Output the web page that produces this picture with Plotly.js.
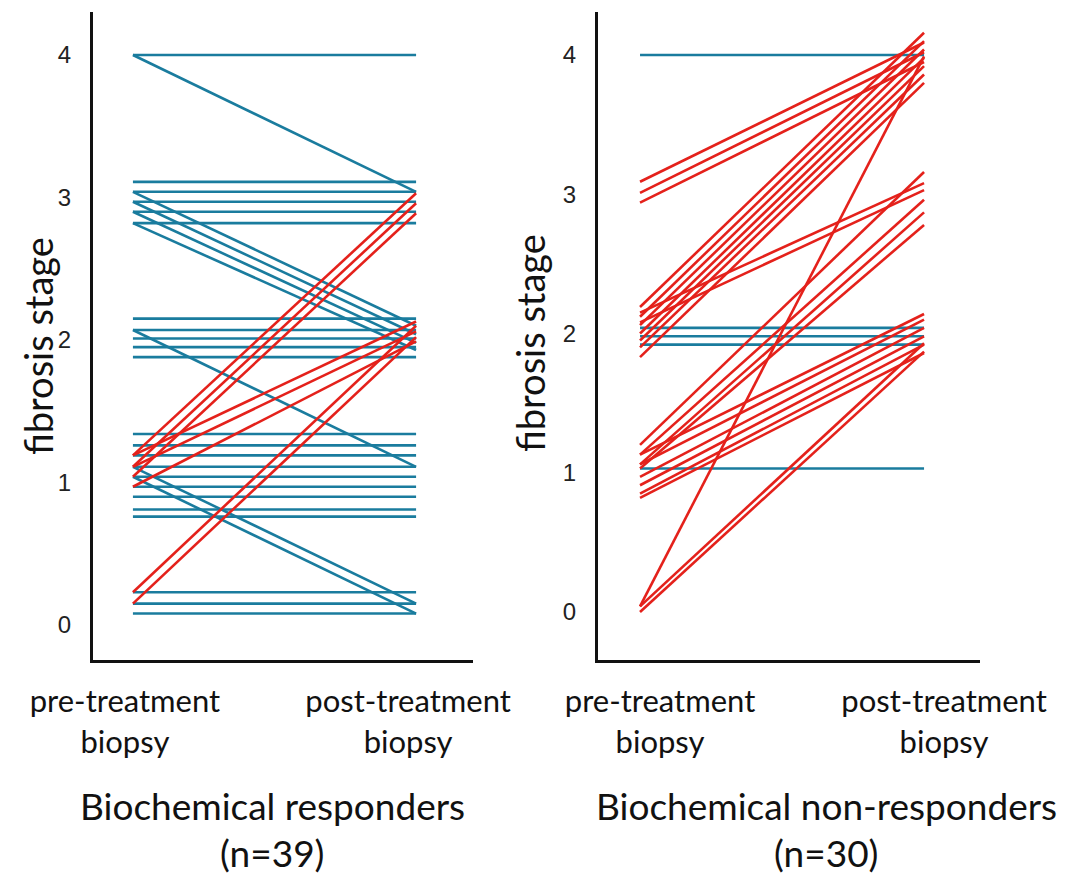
<!DOCTYPE html>
<html>
<head>
<meta charset="utf-8">
<script src="https://cdn.plot.ly/plotly-3.0.1.min.js"></script>
<style>html,body{margin:0;padding:0;background:#fff;}#chart{width:1066px;height:877px;}</style>
</head>
<body>
<div id="chart"></div>
<script>
// Time points (x categories)
const timepoints = ["pre-treatment<br>biopsy", "post-treatment<br>biopsy"];
const stageTicks = [0, 1, 2, 3, 4];

// Biochemical responders (n=39): fibrosis stage per patient (jittered as drawn)
const respPre  = [4.00, 4.00, 3.11, 3.04, 2.97, 2.90, 2.82, 3.04, 2.97, 2.90, 2.82,
                  2.15, 2.07, 2.01, 1.95, 1.88, 2.07,
                  1.34, 1.26, 1.19, 1.11, 1.04, 0.97, 0.90, 0.81, 0.76, 1.11, 1.04,
                  0.23, 0.15, 0.08,
                  1.19, 1.11, 1.04, 1.19, 1.11, 0.97, 0.23, 0.15];
const respPost = [4.00, 3.04, 3.11, 3.04, 2.97, 2.90, 2.82, 2.10, 2.04, 1.98, 1.93,
                  2.15, 2.07, 2.01, 1.95, 1.88, 1.11,
                  1.34, 1.26, 1.19, 1.11, 1.04, 0.97, 0.90, 0.81, 0.76, 0.15, 0.08,
                  0.23, 0.15, 0.08,
                  3.03, 2.96, 2.89, 2.13, 2.06, 1.99, 2.10, 2.02];

// Biochemical non-responders (n=30)
const nonPre  = [4.00, 2.04, 1.98, 1.92, 1.03,
                 3.09, 3.01, 2.94,
                 2.19, 2.12, 2.06, 2.00, 1.95, 1.90, 1.83,
                 2.15, 2.08,
                 0.04, 0.04, 0.00,
                 1.20, 1.13, 1.06, 1.03,
                 1.13, 1.06, 0.97, 0.91, 0.85, 0.82];
const nonPost = [4.00, 2.04, 1.98, 1.92, 1.03,
                 4.09, 4.02, 3.95,
                 4.16, 4.10, 4.04, 3.98, 3.92, 3.86, 3.80,
                 3.08, 3.03,
                 3.99, 1.93, 1.87,
                 3.16, 2.96, 2.87, 2.78,
                 2.14, 2.10, 2.04, 1.98, 1.92, 1.86];

const BLUE = "#1a7c9e";
const RED = "#e4211b";

function buildTraces(pre, post, xa, ya) {
  const blue = [], red = [];
  for (let i = 0; i < pre.length; i++) {
    const worse = Math.round(post[i]) > Math.round(pre[i]);
    const t = {
      type: "scatter", mode: "lines",
      x: [timepoints[0], timepoints[1]],
      y: [pre[i], post[i]],
      xaxis: xa, yaxis: ya,
      line: {color: worse ? RED : BLUE, width: 2.6},
      hoverinfo: "y", showlegend: false
    };
    (worse ? red : blue).push(t);
  }
  return blue.concat(red);
}

const traces = buildTraces(respPre, respPost, "x", "y")
  .concat(buildTraces(nonPre, nonPost, "x2", "y2"));

const W = 1066, H = 877;
const axisFont = {family: "Lato, 'Open Sans', sans-serif", size: 31, color: "#111"};
const tickFontY = {family: "'Liberation Sans', Arial, sans-serif", size: 24, color: "#222"};
const textFont = {family: "Lato, sans-serif", size: 37, color: "#111"};
const titleFont = {family: "Lato, sans-serif", size: 38, color: "#111"};

function xAxis(domain, range, shift) {
  return {
    domain: domain, type: "category", categoryarray: timepoints,
    range: range, showline: true, linecolor: "#111", linewidth: 3,
    showgrid: false, zeroline: false, ticks: "", tickfont: axisFont,
    ticklabelstandoff: 12, ticklabelshift: shift, fixedrange: true
  };
}
function yAxis(range, anchor) {
  return {
    domain: [0, 1], range: range, anchor: anchor,
    showline: true, linecolor: "#111", linewidth: 3,
    showgrid: false, zeroline: false, ticks: "",
    tickvals: stageTicks, tickfont: tickFontY, ticklabelstandoff: 14, fixedrange: true
  };
}

function note(text, px, py, font, angle) {
  return {text: text, xref: "paper", yref: "paper", x: px / W, y: (660 - py) / 648,
          xanchor: "center", yanchor: "middle", textangle: angle || 0,
          showarrow: false, font: font};
}

const layout = {
  width: W, height: H,
  margin: {l: 0, r: 0, t: 12, b: 217, pad: 0},
  paper_bgcolor: "#fff", plot_bgcolor: "#fff",
  showlegend: false,
  xaxis: xAxis([93 / W, 473 / W], [-0.141, 1.201], -8),
  yaxis: yAxis([-0.246, 4.302], "x"),
  xaxis2: xAxis([598 / W, 980 / W], [-0.148, 1.197], 20),
  yaxis2: yAxis([-0.345, 4.309], "x2"),
  annotations: [
    note("fibrosis stage", 38, 346, titleFont, -90),
    note("fibrosis stage", 530, 343, titleFont, -90),
    note("Biochemical responders", 272, 805, textFont),
    note("(n=39)", 272, 852, textFont),
    note("Biochemical non-responders", 826, 805, textFont),
    note("(n=30)", 826, 852, textFont)
  ]
};

Plotly.newPlot("chart", traces, layout, {displayModeBar: false, staticPlot: true});
</script>
</body>
</html>
